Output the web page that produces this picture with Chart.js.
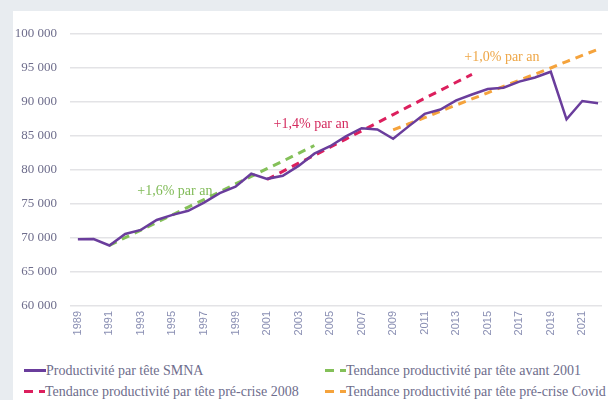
<!DOCTYPE html>
<html>
<head>
<meta charset="utf-8">
<script src="https://cdn.jsdelivr.net/npm/chart.js@4/dist/chart.umd.min.js"></script>
<style>
  html, body { margin: 0; padding: 0; background: #e8ecf0; width: 608px; height: 400px; overflow: hidden; }
  #panel { position: absolute; left: 13px; top: 11px; width: 595px; height: 389px; background: #fff; }
  #wrap { position: absolute; left: 0; top: 0; width: 595px; height: 335px; }
  .item { position: absolute; height: 18px; line-height: 18px; font: 14px "Liberation Serif", serif; color: #6e6d8c; white-space: nowrap; }
  .mk { display: inline-block; vertical-align: middle; height: 3px; margin-top: -2px; }
</style>
</head>
<body>
<div id="panel">
  <div id="wrap"><canvas id="chart"></canvas></div>
  <div id="legend"></div>
</div>
<script>
// data
const years = [1989, 1990, 1991, 1992, 1993, 1994, 1995, 1996, 1997, 1998, 1999, 2000, 2001, 2002, 2003, 2004, 2005,
  2006, 2007, 2008, 2009, 2010, 2011, 2012, 2013, 2014, 2015, 2016, 2017, 2018, 2019, 2020, 2021, 2022];
const productivite = [69800, 69850, 68900, 70600, 71200, 72650, 73400, 74000, 75200, 76600, 77550, 79450, 78700,
  79150, 80600, 82400, 83500, 84950, 86150, 85950, 84600, 86450, 88250, 88900, 90250, 91100, 91900, 92100, 93000,
  93600, 94450, 87450, 90150, 89800];

const yearsAvant2001 = [1991, 1992, 1993, 1994, 1995, 1996, 1997, 1998, 1999, 2000, 2001, 2002, 2003, 2004];
const tendanceAvant2001 = [68900, 70050, 71150, 72300, 73400, 74550, 75650, 76800, 77950, 79050, 80200, 81300, 82450, 83600];

const yearsPreCrise2008 = [2001, 2002, 2003, 2004, 2005, 2006, 2007, 2008, 2009, 2010, 2011, 2012, 2013, 2014];
const tendancePreCrise2008 = [78600, 79800, 81000, 82150, 83350, 84550, 85750, 86950, 88150, 89350, 90550, 91700, 92900, 94050];

const yearsPreCovid = [2009, 2010, 2011, 2012, 2013, 2014, 2015, 2016, 2017, 2018, 2019, 2020, 2021, 2022];
const tendancePreCovid = [85900, 86800, 87700, 88650, 89550, 90450, 91350, 92300, 93200, 94100, 95000, 95950, 96850, 97750];

const xTicks = [1989, 1991, 1993, 1995, 1997, 1999, 2001, 2003, 2005, 2007, 2009, 2011, 2013, 2015, 2017, 2019, 2021];

// annotation labels [text, year, value, colour]
const notes = [
  ['+1,6% par an', 1995.15, 76900, '#80bb58'],
  ['+1,4% par an', 2003.8, 86750, '#d42a5e'],
  ['+1,0% par an', 2015.9, 96600, '#eea646']
];

const pts = (xs, ys) => xs.map((x, i) => ({ x: x, y: ys[i] }));
const spaced = v => String(v).replace(/\B(?=(\d{3})+(?!\d))/g, ' ');

const serif = '"Liberation Serif", serif';

const notesPlugin = {
  id: 'notes',
  afterDatasetsDraw(chart) {
    const c = chart.ctx, sx = chart.scales.x, sy = chart.scales.y;
    c.save();
    c.font = '14px ' + serif;
    c.textAlign = 'center';
    c.textBaseline = 'middle';
    notes.forEach(n => {
      c.fillStyle = n[3];
      c.fillText(n[0], sx.getPixelForValue(n[1]), sy.getPixelForValue(n[2]));
    });
    c.restore();
  }
};

const chart = new Chart(document.getElementById('chart'), {
  type: 'line',
  data: {
    datasets: [
      { label: 'Productivité par tête SMNA', data: pts(years, productivite), borderColor: '#6a3d9c', borderWidth: 2.5, order: 0 },
      { label: 'Tendance productivité par tête avant 2001', data: pts(yearsAvant2001, tendanceAvant2001), borderColor: '#84c059', borderWidth: 3, borderDash: [8, 6], order: 1 },
      { label: 'Tendance productivité par tête pré-crise 2008', data: pts(yearsPreCrise2008, tendancePreCrise2008), borderColor: '#dc1f5d', borderWidth: 3, borderDash: [8, 6], order: 1 },
      { label: 'Tendance productivité par tête pré-crise Covid', data: pts(yearsPreCovid, tendancePreCovid), borderColor: '#f5a33c', borderWidth: 3, borderDash: [8, 6], order: 1 }
    ]
  },
  options: {
    responsive: true,
    maintainAspectRatio: false,
    animation: false,
    devicePixelRatio: 1,
    layout: { padding: { top: 23, right: 6, left: 0, bottom: 0 } },
    elements: { point: { radius: 0 }, line: { tension: 0, borderCapStyle: 'butt' } },
    plugins: { legend: { display: false }, tooltip: { enabled: false } },
    scales: {
      x: {
        type: 'linear',
        min: 1988.5,
        max: 2022.25,
        afterBuildTicks: s => { s.ticks = xTicks.map(v => ({ value: v })); },
        afterFit: s => { s.height = 40; },
        grid: { display: false, drawTicks: false },
        border: { display: false },
        ticks: {
          autoSkip: false, minRotation: 90, maxRotation: 90, padding: 5,
          color: '#8a8fb3', font: { family: '"Liberation Sans", sans-serif', size: 11 },
          callback: v => String(v)
        }
      },
      y: {
        min: 60000,
        max: 100000,
        afterFit: s => { s.width = 57; },
        grid: { color: '#e3e3e6', lineWidth: 1.5, drawTicks: false },
        border: { display: false },
        ticks: {
          stepSize: 5000, padding: 13,
          color: '#6e6d8c', font: { family: serif, size: 13 },
          callback: v => spaced(v)
        }
      }
    }
  },
  plugins: [notesPlugin]
});

// legend in two columns, built from the datasets
const legend = document.getElementById('legend');
const spots = [[11, 352], [312, 352], [11, 373], [312, 373]];
chart.data.datasets.forEach((ds, i) => {
  const el = document.createElement('div');
  el.className = 'item';
  el.style.left = spots[i][0] + 'px';
  el.style.top = spots[i][1] + 'px';
  let mk;
  if (ds.borderDash) {
    mk = '<span class="mk" style="width:9px;background:' + ds.borderColor + '"></span>' +
         '<span class="mk" style="width:6px;margin-left:6px;background:' + ds.borderColor + '"></span>';
  } else {
    mk = '<span class="mk" style="width:22px;background:' + ds.borderColor + '"></span>';
  }
  el.innerHTML = mk + ds.label;
  legend.appendChild(el);
});
</script>
</body>
</html>
